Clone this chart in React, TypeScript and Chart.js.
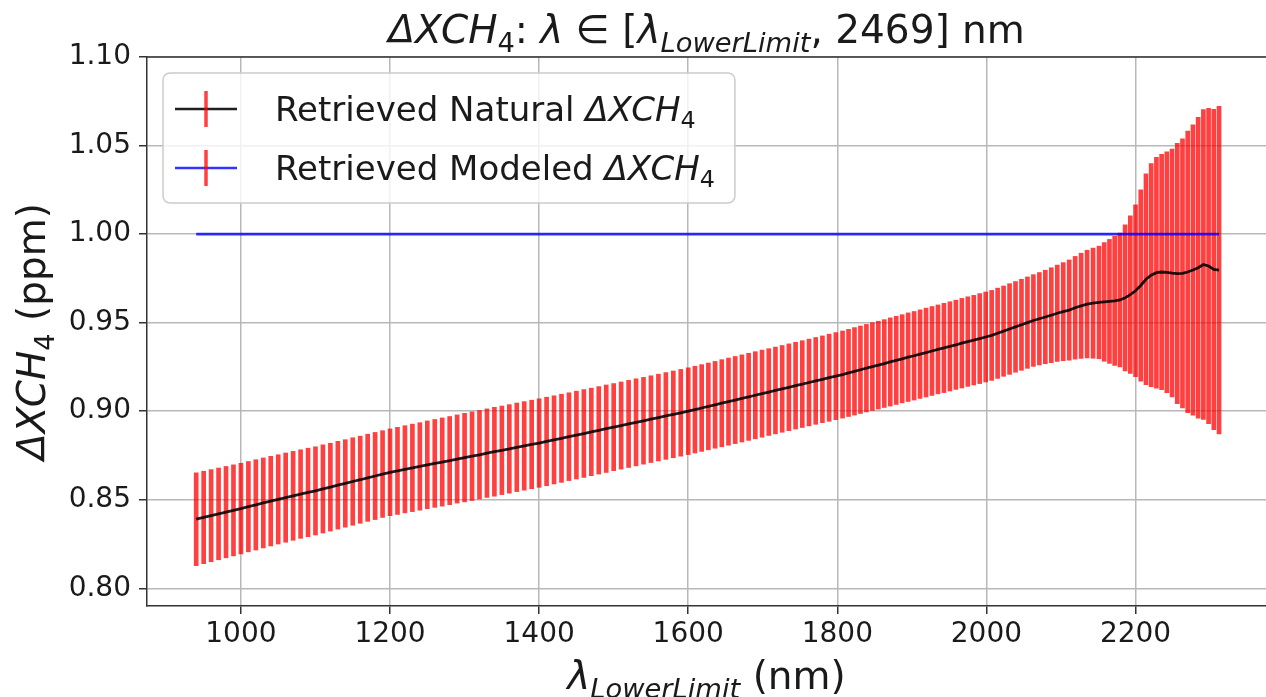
import React, { useEffect, useRef } from 'react';
import { Chart, registerables } from 'chart.js';

Chart.register(...registerables);

// ---------- data ----------
const wavelengths = [
  940, 950, 960, 970, 980, 990, 1000, 1010, 1020, 1030, 1040, 1050, 1060, 1070, 1080, 1090, 1100,
  1110, 1120, 1130, 1140, 1150, 1160, 1170, 1180, 1190, 1200, 1210, 1220, 1230, 1240, 1250, 1260,
  1270, 1280, 1290, 1300, 1310, 1320, 1330, 1340, 1350, 1360, 1370, 1380, 1390, 1400, 1410, 1420,
  1430, 1440, 1450, 1460, 1470, 1480, 1490, 1500, 1510, 1520, 1530, 1540, 1550, 1560, 1570, 1580,
  1590, 1600,
  1609, 1618, 1627, 1636, 1645, 1654, 1663, 1672, 1681, 1690, 1699, 1708, 1717, 1726, 1735, 1744,
  1753, 1762, 1771, 1780, 1789, 1798, 1807,
  1815, 1823, 1831, 1839, 1847, 1855, 1863, 1871, 1879, 1887, 1895, 1903, 1911, 1919, 1927, 1935,
  1943, 1951, 1959, 1967, 1975, 1983, 1991, 1999, 2007, 2015, 2023, 2031, 2039, 2047, 2055, 2063,
  2071, 2079, 2087, 2095, 2103, 2111, 2119, 2127, 2135, 2143, 2151,
  2158, 2165, 2172, 2179, 2186, 2193, 2200, 2207, 2214, 2221, 2228, 2235, 2242, 2249, 2256, 2263,
  2270, 2277, 2284, 2291, 2298, 2305, 2312,
];

const naturalMean = [
  0.8390, 0.8400, 0.8410, 0.8420, 0.8430, 0.8440, 0.8450, 0.8461, 0.8471, 0.8482, 0.8492, 0.8502,
  0.8512, 0.8522, 0.8532, 0.8541, 0.8550, 0.8561, 0.8571, 0.8582, 0.8592, 0.8603, 0.8613, 0.8624,
  0.8634, 0.8645, 0.8655, 0.8663, 0.8672, 0.8680, 0.8688, 0.8697, 0.8705, 0.8713, 0.8721, 0.8730,
  0.8738, 0.8746, 0.8754, 0.8763, 0.8771, 0.8779, 0.8787, 0.8796, 0.8804, 0.8812, 0.8820, 0.8829,
  0.8838, 0.8847, 0.8856, 0.8865, 0.8874, 0.8883, 0.8892, 0.8901, 0.8910, 0.8919, 0.8928, 0.8937,
  0.8946, 0.8955, 0.8964, 0.8973, 0.8982, 0.8991, 0.9000,
  0.9009, 0.9018, 0.9027, 0.9036, 0.9045, 0.9054, 0.9063, 0.9072, 0.9081, 0.9090, 0.9099, 0.9108,
  0.9117, 0.9126, 0.9135, 0.9144, 0.9153, 0.9162, 0.9171, 0.9180, 0.9189, 0.9198, 0.9207,
  0.9216, 0.9225, 0.9234, 0.9243, 0.9252, 0.9260, 0.9269, 0.9278, 0.9287, 0.9296, 0.9305, 0.9313,
  0.9322, 0.9331, 0.9340, 0.9349, 0.9357, 0.9366, 0.9375, 0.9384, 0.9393, 0.9401, 0.9410, 0.9419,
  0.9428, 0.9440, 0.9452, 0.9464, 0.9476, 0.9488, 0.9500, 0.9512, 0.9522, 0.9532, 0.9542, 0.9553,
  0.9562, 0.9571, 0.9584, 0.9595, 0.9605, 0.9610, 0.9614,
  0.9617, 0.9620, 0.9623, 0.9628, 0.9640, 0.9658, 0.9680, 0.9710, 0.9745, 0.9768, 0.9782, 0.9786,
  0.9784, 0.9780, 0.9777, 0.9778, 0.9786, 0.9797, 0.9810, 0.9828, 0.9820, 0.9800, 0.9797,
];

const naturalErr = [
  0.0262, 0.0261, 0.0260, 0.0259, 0.0258, 0.0257, 0.0256,
  0.0255, 0.0255, 0.0254, 0.0253, 0.0252, 0.0252, 0.0251, 0.0250, 0.0250, 0.0249,
  0.0249, 0.0248, 0.0248, 0.0247, 0.0247, 0.0246, 0.0246, 0.0246, 0.0245, 0.0245,
  0.0246, 0.0246, 0.0247, 0.0247, 0.0248, 0.0248, 0.0249, 0.0249, 0.0249, 0.0250,
  0.0250, 0.0250, 0.0250, 0.0251, 0.0250, 0.0250, 0.0250, 0.0250, 0.0250, 0.0250,
  0.0250, 0.0249, 0.0249, 0.0248, 0.0248, 0.0248, 0.0247, 0.0247, 0.0247, 0.0246,
  0.0246, 0.0246, 0.0246, 0.0245, 0.0245, 0.0245, 0.0245, 0.0245, 0.0245, 0.0245,
  0.0245, 0.0245, 0.0245, 0.0245, 0.0246, 0.0246, 0.0246, 0.0246, 0.0246, 0.0246, 0.0246, 0.0245,
  0.0245, 0.0245, 0.0245, 0.0245, 0.0245, 0.0245, 0.0245, 0.0245, 0.0246, 0.0246, 0.0246,
  0.0246, 0.0247, 0.0247, 0.0247, 0.0248, 0.0248, 0.0248, 0.0249, 0.0249, 0.0249, 0.0250, 0.0250,
  0.0250, 0.0251, 0.0251, 0.0251, 0.0252, 0.0252, 0.0252, 0.0253, 0.0253, 0.0253, 0.0254, 0.0254,
  0.0254, 0.0255, 0.0255, 0.0256, 0.0256, 0.0257, 0.0258, 0.0259, 0.0261, 0.0264, 0.0268, 0.0272,
  0.0277, 0.0283, 0.0290, 0.0297, 0.0304, 0.0311, 0.0318,
  0.0335, 0.0350, 0.0365, 0.0378, 0.0412, 0.0445, 0.0485, 0.0540, 0.0595, 0.0630, 0.0652, 0.0665,
  0.0680, 0.0700, 0.0735, 0.0760, 0.0795, 0.0820, 0.0850, 0.0875, 0.0890, 0.0905, 0.0925,
];

const modeledX = [940, 2312];
const modeledY = [1.0, 1.0];

const xTickStep = 200;
const yTickStep = 0.05;
const xRange = [874, 2375];
const yRange = [0.79, 1.10];

type Seg = { t: string; it?: boolean; sub?: boolean };

const titleSegs: Seg[] = [
  { t: 'Δ', it: true }, { t: 'XCH', it: true }, { t: '4', sub: true }, { t: ': ' },
  { t: 'λ', it: true }, { t: ' ∈ ' }, { t: '[' }, { t: 'λ', it: true },
  { t: 'LowerLimit', it: true, sub: true }, { t: ', 2469] nm' },
];
const xTitleSegs: Seg[] = [{ t: 'λ', it: true }, { t: 'LowerLimit', it: true, sub: true }, { t: ' (nm)' }];
const yTitleSegs: Seg[] = [{ t: 'Δ', it: true }, { t: 'XCH', it: true }, { t: '4', sub: true }, { t: ' (ppm)' }];
const legendNatural: Seg[] = [{ t: 'Retrieved Natural ' }, { t: 'Δ', it: true }, { t: 'XCH', it: true }, { t: '4', sub: true }];
const legendModeled: Seg[] = [{ t: 'Retrieved Modeled ' }, { t: 'Δ', it: true }, { t: 'XCH', it: true }, { t: '4', sub: true }];

const FONT = '"DejaVu Sans", sans-serif';
const TEXT = '#1a1a1a';
const RED = 'rgba(255,0,0,0.75)';
const BLACK = 'rgba(0,0,0,0.88)';
const BLUE = 'rgba(0,0,255,0.8)';

function segFont(s: Seg, size: number) {
  return `${s.it ? 'italic ' : ''}${s.sub ? (size * 0.7).toFixed(1) : size}px ${FONT}`;
}
function measureRich(ctx: CanvasRenderingContext2D, segs: Seg[], size: number) {
  let w = 0;
  for (const s of segs) {
    ctx.font = segFont(s, size);
    w += ctx.measureText(s.t).width;
  }
  return w;
}
function drawRich(ctx: CanvasRenderingContext2D, segs: Seg[], x: number, y: number, size: number, align: 'left' | 'center') {
  const w = measureRich(ctx, segs, size);
  let cx = align === 'center' ? x - w / 2 : x;
  ctx.textAlign = 'left';
  ctx.textBaseline = 'alphabetic';
  for (const s of segs) {
    ctx.font = segFont(s, size);
    ctx.fillText(s.t, cx, y + (s.sub ? size * 0.22 : 0));
    cx += ctx.measureText(s.t).width;
  }
  return w;
}

const decorPlugin = {
  id: 'decor',
  afterDraw(chart: any) {
    const ctx: CanvasRenderingContext2D = chart.ctx;
    const a = chart.chartArea;
    ctx.save();
    // top spine
    ctx.strokeStyle = '#333';
    ctx.lineWidth = 1.5;
    ctx.beginPath();
    ctx.moveTo(a.left, a.top);
    ctx.lineTo(a.right, a.top);
    ctx.stroke();

    ctx.fillStyle = TEXT;
    // title
    drawRich(ctx, titleSegs, (a.left + a.right) / 2, 43, 39, 'center');
    // x title
    drawRich(ctx, xTitleSegs, (a.left + a.right) / 2, 689, 39, 'center');
    // y title
    ctx.save();
    ctx.translate(45, (a.top + a.bottom) / 2);
    ctx.rotate(-Math.PI / 2);
    drawRich(ctx, yTitleSegs, 0, 0, 39, 'center');
    ctx.restore();

    // legend
    const lsize = 34;
    const textX = 275;
    const w1 = measureRich(ctx, legendNatural, lsize);
    const w2 = measureRich(ctx, legendModeled, lsize);
    const bx = 163, by = 73, bw = textX + Math.max(w1, w2) + 20 - bx, bh = 130;
    ctx.beginPath();
    ctx.roundRect(bx, by, bw, bh, 7);
    ctx.fillStyle = 'rgba(255,255,255,0.8)';
    ctx.fill();
    ctx.strokeStyle = '#cccccc';
    ctx.lineWidth = 1.5;
    ctx.stroke();
    const rows = [
      { segs: legendNatural, color: BLACK, cy: 109 },
      { segs: legendModeled, color: BLUE, cy: 168 },
    ];
    for (const r of rows) {
      ctx.strokeStyle = r.color;
      ctx.lineWidth = 2.6;
      ctx.beginPath();
      ctx.moveTo(175, r.cy);
      ctx.lineTo(237, r.cy);
      ctx.stroke();
      ctx.strokeStyle = RED;
      ctx.lineWidth = 3.5;
      ctx.beginPath();
      ctx.moveTo(206, r.cy - 18);
      ctx.lineTo(206, r.cy + 18);
      ctx.stroke();
      ctx.fillStyle = TEXT;
      drawRich(ctx, r.segs, textX, r.cy + 12, lsize, 'left');
    }
    ctx.restore();
  },
};

export default function App() {
  const ref = useRef<HTMLCanvasElement | null>(null);
  useEffect(() => {
    if (!ref.current) return;
    const errData = wavelengths.map((x, i) => ({ x, y: [naturalMean[i] - naturalErr[i], naturalMean[i] + naturalErr[i]] }));
    const meanData = wavelengths.map((x, i) => ({ x, y: naturalMean[i] }));
    const modData = modeledX.map((x, i) => ({ x, y: modeledY[i] }));
    const chart = new Chart(ref.current, {
      type: 'line',
      data: {
        datasets: [
          { type: 'line', label: 'Retrieved Natural', data: meanData, borderColor: BLACK, borderWidth: 2.8, pointRadius: 0, tension: 0, order: 0 } as any,
          { type: 'line', label: 'Retrieved Modeled', data: modData, borderColor: BLUE, borderWidth: 2.6, pointRadius: 0, tension: 0, order: 1 } as any,
          { type: 'bar', label: 'Error', data: errData, backgroundColor: RED, borderWidth: 0, barThickness: 4, order: 2 } as any,
        ],
      },
      options: {
        animation: false,
        responsive: false,
        maintainAspectRatio: false,
        layout: { padding: { left: 0, right: 0, top: 57, bottom: 0 } },
        plugins: { legend: { display: false }, tooltip: { enabled: false }, title: { display: false } },
        scales: {
          x: {
            type: 'linear',
            min: xRange[0],
            max: xRange[1],
            offset: false,
            afterFit: (s: any) => { s.height = 91; },
            grid: { offset: false, color: '#b8b8b8', lineWidth: 1.5, tickLength: 8, tickColor: '#333', tickWidth: 1.5 },
            border: { color: '#333', width: 1.5 },
            ticks: {
              stepSize: xTickStep,
              includeBounds: false,
              autoSkip: false,
              maxRotation: 0,
              padding: 4,
              color: TEXT,
              font: { family: FONT, size: 28 },
              callback: (v: any) => String(v),
            },
          },
          y: {
            type: 'linear',
            min: yRange[0],
            max: yRange[1],
            afterFit: (s: any) => { s.width = 147; },
            grid: { offset: false, color: '#b8b8b8', lineWidth: 1.5, tickLength: 8, tickColor: '#333', tickWidth: 1.5 },
            border: { color: '#333', width: 1.5 },
            ticks: {
              stepSize: yTickStep,
              includeBounds: false,
              autoSkip: false,
              padding: 8,
              color: TEXT,
              font: { family: FONT, size: 28 },
              callback: (v: any) => Number(v).toFixed(2),
            },
          },
        },
      } as any,
      plugins: [decorPlugin],
    });
    return () => chart.destroy();
  }, []);
  return (
    <div style={{ position: 'fixed', left: 0, top: 0, width: 1266, height: 697, background: '#fff' }}>
      <canvas ref={ref} width={1266} height={697} style={{ display: 'block', width: 1266, height: 697 }} />
    </div>
  );
}
